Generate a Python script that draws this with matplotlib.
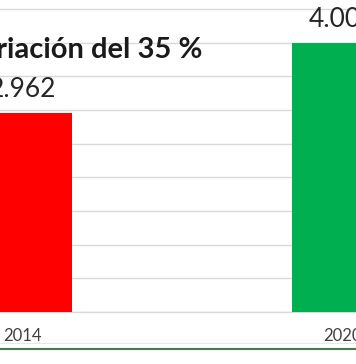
import matplotlib
matplotlib.use("Agg")
import matplotlib.pyplot as plt
from matplotlib.lines import Line2D

categories = ["2014", "2020"]
values = [2962, 4000]
value_labels = ["2.962", "4.000"]
colors = ["#ff0000", "#00b050"]
title = "Variación del 35 %"

W, H = 356, 364
fig = plt.figure(figsize=(W / 100, H / 100), dpi=100)
fig.patch.set_facecolor("white")
plt.rcParams["font.family"] = ["Lato", "DejaVu Sans"]

ax = fig.add_axes([0, 52 / H, 1, 312 / H])
x = list(range(len(categories)))
ax.bar(x, values, width=0.3125, color=colors, zorder=3)
ax.set_xlim(-22 / 320, 1 + 14 / 320)
ax.set_ylim(0, 4634)
ax.set_yticks(range(0, 5000, 500))
ax.yaxis.grid(True, color="#d9d9d9", linewidth=1.0, zorder=0)
ax.tick_params(axis="y", left=False, labelleft=False)
ax.set_xticks(x)
ax.set_xticklabels(categories, fontsize=12, color="#404040")
ax.tick_params(axis="x", length=0, pad=11.5)
for s in ["top", "left", "right"]:
    ax.spines[s].set_visible(False)
ax.spines["bottom"].set_color("#d9d9d9")
ax.spines["bottom"].set_linewidth(1.0)

for xi, v, lab in zip(x, values, value_labels):
    ax.annotate(lab, (xi, v), xytext=(0, 11), textcoords="offset points",
                ha="center", va="baseline", fontsize=19, color="#262626")

fig.text(203 / W, 1 - 50 / H, title, ha="right", va="center",
         fontsize=21, fontweight="bold", color="#1a1a1a")

fig.add_artist(Line2D([0, 1], [1 - 342.5 / H] * 2, color="#e8e8e8", lw=0.8))
fig.add_artist(Line2D([0, 1], [1 - 349 / H] * 2, color="#4a7a4a", lw=1.5))

fig.savefig("out.png", dpi=100, facecolor="white")
